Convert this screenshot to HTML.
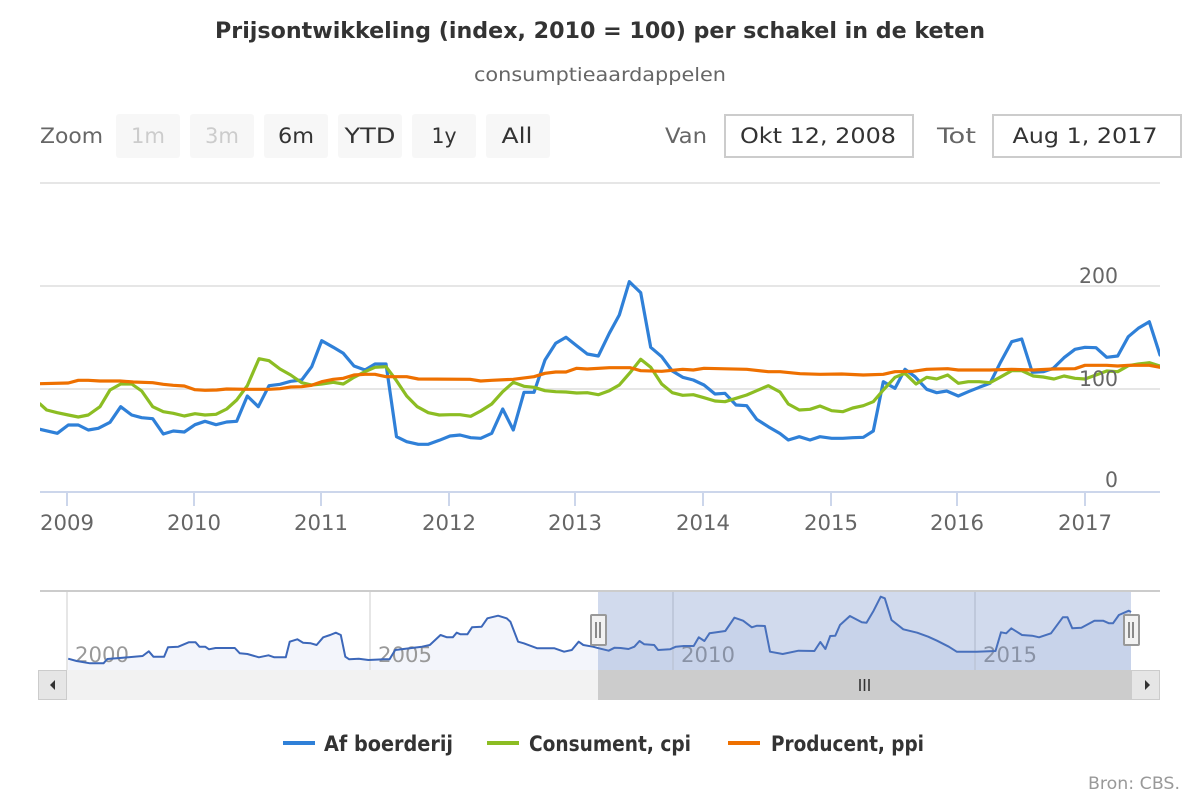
<!DOCTYPE html>
<html>
<head>
<meta charset="utf-8">
<style>
html,body{margin:0;padding:0;background:#fff;}
svg{display:block;}
text{font-family:"DejaVu Sans Condensed","DejaVu Sans","Liberation Sans",sans-serif;}
</style>
</head>
<body>
<svg width="1200" height="800" viewBox="0 0 1200 800" xmlns="http://www.w3.org/2000/svg">
<rect x="0" y="0" width="1200" height="800" fill="#fff"/>

<!-- Title -->
<text x="600" y="38" text-anchor="middle" font-size="22" font-weight="bold" fill="#333" textLength="770" lengthAdjust="spacingAndGlyphs">Prijsontwikkeling (index, 2010 = 100) per schakel in de keten</text>
<text x="600" y="81" text-anchor="middle" font-size="19" fill="#666" textLength="252" lengthAdjust="spacingAndGlyphs">consumptieaardappelen</text>

<!-- Range selector -->
<text x="40" y="143" font-size="21" fill="#666" textLength="63" lengthAdjust="spacingAndGlyphs">Zoom</text>
<rect x="116" y="114" width="64" height="44" rx="3" fill="#f7f7f7"/>
<rect x="190" y="114" width="64" height="44" rx="3" fill="#f7f7f7"/>
<rect x="264" y="114" width="64" height="44" rx="3" fill="#f7f7f7"/>
<rect x="338" y="114" width="64" height="44" rx="3" fill="#f7f7f7"/>
<rect x="412" y="114" width="64" height="44" rx="3" fill="#f7f7f7"/>
<rect x="486" y="114" width="64" height="44" rx="3" fill="#f7f7f7"/>
<text x="148" y="143" text-anchor="middle" font-size="21" fill="#ccc" textLength="34" lengthAdjust="spacingAndGlyphs">1m</text>
<text x="222" y="143" text-anchor="middle" font-size="21" fill="#ccc" textLength="34" lengthAdjust="spacingAndGlyphs">3m</text>
<text x="296" y="143" text-anchor="middle" font-size="21" fill="#333" textLength="36" lengthAdjust="spacingAndGlyphs">6m</text>
<text x="370" y="143" text-anchor="middle" font-size="21" fill="#333" textLength="51" lengthAdjust="spacingAndGlyphs">YTD</text>
<text x="444" y="143" text-anchor="middle" font-size="21" fill="#333" textLength="25" lengthAdjust="spacingAndGlyphs">1y</text>
<text x="517" y="143" text-anchor="middle" font-size="21" fill="#333" textLength="31" lengthAdjust="spacingAndGlyphs">All</text>

<text x="665" y="143" font-size="21" fill="#666" textLength="42" lengthAdjust="spacingAndGlyphs">Van</text>
<rect x="725" y="115" width="188" height="42" fill="#fff" stroke="#ccc" stroke-width="2"/>
<text x="818" y="143" text-anchor="middle" font-size="21" fill="#333" textLength="156" lengthAdjust="spacingAndGlyphs">Okt 12, 2008</text>
<text x="937" y="143" font-size="21" fill="#666" textLength="39" lengthAdjust="spacingAndGlyphs">Tot</text>
<rect x="993" y="115" width="188" height="42" fill="#fff" stroke="#ccc" stroke-width="2"/>
<text x="1085" y="143" text-anchor="middle" font-size="21" fill="#333" textLength="145" lengthAdjust="spacingAndGlyphs">Aug 1, 2017</text>

<!-- Main grid -->
<g stroke="#e6e6e6" stroke-width="2">
<line x1="40" y1="183" x2="1160" y2="183"/>
<line x1="40" y1="286" x2="1160" y2="286"/>
<line x1="40" y1="389" x2="1160" y2="389"/>
</g>
<line x1="40" y1="492" x2="1160" y2="492" stroke="#ccd6eb" stroke-width="2"/>
<g stroke="#ccd6eb" stroke-width="2">
<line x1="67" y1="492" x2="67" y2="506"/>
<line x1="194" y1="492" x2="194" y2="506"/>
<line x1="321" y1="492" x2="321" y2="506"/>
<line x1="449" y1="492" x2="449" y2="506"/>
<line x1="575" y1="492" x2="575" y2="506"/>
<line x1="703" y1="492" x2="703" y2="506"/>
<line x1="831" y1="492" x2="831" y2="506"/>
<line x1="957" y1="492" x2="957" y2="506"/>
<line x1="1085" y1="492" x2="1085" y2="506"/>
</g>
<g font-size="21" fill="#666" text-anchor="middle">
<text x="67" y="530" textLength="54" lengthAdjust="spacingAndGlyphs">2009</text>
<text x="194" y="530" textLength="54" lengthAdjust="spacingAndGlyphs">2010</text>
<text x="321" y="530" textLength="54" lengthAdjust="spacingAndGlyphs">2011</text>
<text x="449" y="530" textLength="54" lengthAdjust="spacingAndGlyphs">2012</text>
<text x="575" y="530" textLength="54" lengthAdjust="spacingAndGlyphs">2013</text>
<text x="703" y="530" textLength="54" lengthAdjust="spacingAndGlyphs">2014</text>
<text x="831" y="530" textLength="54" lengthAdjust="spacingAndGlyphs">2015</text>
<text x="957" y="530" textLength="54" lengthAdjust="spacingAndGlyphs">2016</text>
<text x="1085" y="530" textLength="54" lengthAdjust="spacingAndGlyphs">2017</text>
</g>

<!-- Series -->
<defs><clipPath id="pc"><rect x="40" y="170" width="1120" height="322"/></clipPath></defs>
<g clip-path="url(#pc)" fill="none" stroke-width="3.2" stroke-linejoin="round" stroke-linecap="round">
<polyline stroke="#2f80d8" points="40,429.3 57.3,433.3 68.3,425 78.3,425 88.3,430 98.3,428.3 110,422.3 120.7,406.7 131.7,415 141.7,417.7 152.7,418.7 163.3,434 173.3,431 184.3,432 195,424.7 205,421.3 216,424.7 226.7,422 236.7,421.3 247.3,396 258.3,406.7 269,385.7 280,384.3 290.7,381.3 301.7,380 311.7,366.7 321.7,340.7 333.3,347.3 343.3,353.3 354,366 365,370 375,364 386,364 396.5,436.7 406.7,441.7 418.3,444.3 428.3,444.3 439.3,440.3 450,436 460,435 470.7,437.7 480.7,438.3 491.7,433.3 502.7,409 513.3,430 524,392.3 534,392.3 545,360 555.7,343.3 566,337.3 576.7,345.7 587.3,354 598.3,356 609.3,333.3 619.3,315 629.3,281.7 640.7,292.7 650.7,347.3 661.7,356.7 672.3,371 682.7,377.3 693.3,380 704,385 715,394 725,393.3 736,405 746.7,405.7 756.7,419.3 768.3,426.7 780,433.5 788.3,440 799.3,436.7 810,440 820,436.7 831.7,438.3 842.7,438.3 852.7,437.7 863.3,437.3 873.3,431 883.3,381.7 895,388.3 905,369.3 915,376.7 926.7,389.3 936.7,392.7 946.7,391 958.3,396 968.3,391.7 979.3,387.3 990,383.3 1000,363.3 1011.7,341.7 1021.7,339 1032.3,372.3 1043.3,371.7 1053.3,368.3 1064,357.7 1075,349.3 1085,347.3 1096,347.7 1106.7,357.3 1117.7,356 1128.3,336.7 1138.3,328.3 1149.3,321.7 1160,355"/>
<polyline stroke="#8cbd23" points="40,404 46.7,410 57.3,412.7 68.3,415 78.3,417 88.3,415 100,406.7 110,390 120.7,384 131.7,384 141.7,391 152.7,406.7 163.3,411.7 173.3,413.3 184.3,416 195,413.7 205,415 216,414.3 226.7,409 236.7,400 247.3,385.7 259,358.7 269,360.7 280,369 290.7,375 301.7,382.7 311.7,385 321.7,384 333.3,382.3 343.3,384 354,377.3 365,371.7 375,367.3 386,366.7 396,380 406.7,396 417.3,406.7 428.3,412.7 439.3,415 450,414.7 460,414.7 470.7,416.3 480.7,411 491.7,404 502.7,391.7 513.3,382.3 524,386.3 534,387.3 545,390.7 555.7,391.7 566,392 576.7,393 587.3,392.7 598.3,394.7 609.3,390.7 619.3,385 630,372.7 640.7,359.3 650.7,367.3 661.7,384 672.3,392.7 682.7,395.3 693.3,394.7 704,397.7 715,401 725,401.7 736,398.3 746.7,395 756.7,390.7 768.3,385.7 780,392 788.3,404 799.3,410 810,409.3 820,406 831.7,410.7 842.7,411.7 852.7,408 863.3,405.7 873.3,401.7 883.3,390 895,377.3 905,373.3 916,384 926.7,377.3 936.7,379 947.7,375 958.3,383.3 968.3,381.7 979.3,381.7 990,382.7 1000,377.3 1011.7,370.7 1021.7,370.7 1033.3,376 1043.3,377 1054,379 1064,376 1075,378.3 1085,379 1096,375 1106.7,371 1117.7,371.7 1128.3,365.7 1138.3,364 1149.3,362.7 1160,366"/>
<polyline stroke="#ee7000" points="40,383.7 68.3,383 78.3,380.3 88.3,380.3 100,381 120,381 133.3,382 152.7,382.7 163.3,384.3 173.3,385.3 184.3,386 195,389.7 205,390.3 216.7,390 226.7,389 246.7,389.3 269,389.3 280,388.7 290.7,387 301.7,386.7 311.7,385.3 321.7,381.7 333.3,379.3 343.3,378.3 354,375 365,374.3 375,374.3 386,376.7 406.7,376.7 418.3,379 470,379.3 480.7,381 491.7,380.3 513.3,379.3 534,376.7 545,373.3 555.7,372 566,372 576.7,368.3 587.3,369 609.3,367.7 630,367.7 640.7,370.7 661.7,371.3 682.7,369.3 693.3,370 704,368.3 746.7,369.3 768.3,371.7 780,371.7 800,373.7 820,374.3 841.7,374 863.3,375 883.3,374.3 895,371.7 913.3,371.3 926.7,369.3 947.7,368.7 958.3,370 990,370 1011.7,369.3 1033.3,370 1053.3,369 1075,368.7 1085,365.3 1106.7,365.3 1117.7,366 1128.3,365.3 1149.3,365.3 1160,367.3"/>
</g>

<!-- Y labels -->
<g font-size="21" fill="#666" text-anchor="end">
<text x="1118" y="283" textLength="39" lengthAdjust="spacingAndGlyphs">200</text>
<text x="1118" y="386" textLength="39" lengthAdjust="spacingAndGlyphs">100</text>
<text x="1118" y="487" textLength="13" lengthAdjust="spacingAndGlyphs">0</text>
</g>

<!-- Navigator -->
<polygon fill="#f3f5fb" points="68.2,670 68.2,658.7 76.6,661 90,663.3 103.5,663.3 107.3,659 122.7,657.7 142.6,656 148.8,651.3 153.4,656.7 164.1,656.7 168,647.3 178.3,646.7 188.7,642.3 195.6,642.3 199.4,646.7 205.2,646.7 209,649.3 215.6,648 234.8,648 239.8,653.3 247.4,654 258.9,657.3 268.5,655.3 274.3,657.3 285.8,657.3 289.7,641.7 297.3,639.3 303.1,642.7 310.8,643.3 316.6,645 323.2,637.3 330.1,635 335.8,632.7 340.8,635 345.3,656.7 349.2,659.3 358.8,658.7 368.4,660 383.7,659.3 389.5,659.3 395.2,650 422.1,646.7 429.8,645 440.5,635 447,637.3 452.8,637.3 456.7,632.7 460.5,634.3 467.4,634.3 472,627.3 481.6,626.7 487.4,618.3 498.1,615.7 506.6,618.3 510.4,621.7 518.1,641.7 523.8,643.3 537.3,648.3 554.5,648.3 564.1,651.7 571.8,650 578.7,641.7 583.3,645 592.9,646.7 599,648.3 608.7,650.7 614.6,647.7 620.6,648 628.5,649 634.4,646.7 639.5,641 644.3,644.3 654.2,645 658.1,650 670,649.3 675.9,646.7 683.8,646 693.7,646 698.8,637.3 704.4,641 709.5,633.3 725.3,631 734.4,617.7 743.1,620.7 751.8,627.3 757,625.7 764.9,626 770,651.7 782.7,654 798.5,650.7 814.4,651 820.3,642 825.4,649 830.2,636 835.3,635.7 840,625 849.9,616 861.8,622.3 866.5,622.7 873.6,610.7 880.7,596.7 884.8,598.3 891.5,620 903.3,629.3 917.2,632.7 928.2,636.7 937,640.7 948.8,646.7 956.7,651.7 976.5,651.7 995.5,651 1001,632.3 1006.2,633.3 1011.3,628.3 1022,635 1032,635.7 1039.1,637.3 1051,633.3 1062.8,617.3 1067.5,617.3 1072.3,628.3 1081.4,627.7 1094.4,620.7 1103.1,620.7 1109,623.3 1113,623.3 1118.9,615 1128.8,610.7 1131,612 1131,670"/>
<g stroke="#e6e6e6" stroke-width="2">
<line x1="67" y1="591" x2="67" y2="670"/>
<line x1="370" y1="591" x2="370" y2="670"/>
<line x1="673" y1="591" x2="673" y2="670"/>
<line x1="975" y1="591" x2="975" y2="670"/>
</g>
<g font-size="21" fill="#999">
<text x="75" y="662" textLength="54" lengthAdjust="spacingAndGlyphs">2000</text>
<text x="378" y="662" textLength="54" lengthAdjust="spacingAndGlyphs">2005</text>
<text x="681" y="662" textLength="54" lengthAdjust="spacingAndGlyphs">2010</text>
<text x="983" y="662" textLength="54" lengthAdjust="spacingAndGlyphs">2015</text>
</g>
<polyline fill="none" stroke="#3c67b9" stroke-width="2" stroke-linejoin="round" points="68.2,658.7 76.6,661 90,663.3 103.5,663.3 107.3,659 122.7,657.7 142.6,656 148.8,651.3 153.4,656.7 164.1,656.7 168,647.3 178.3,646.7 188.7,642.3 195.6,642.3 199.4,646.7 205.2,646.7 209,649.3 215.6,648 234.8,648 239.8,653.3 247.4,654 258.9,657.3 268.5,655.3 274.3,657.3 285.8,657.3 289.7,641.7 297.3,639.3 303.1,642.7 310.8,643.3 316.6,645 323.2,637.3 330.1,635 335.8,632.7 340.8,635 345.3,656.7 349.2,659.3 358.8,658.7 368.4,660 383.7,659.3 389.5,659.3 395.2,650 422.1,646.7 429.8,645 440.5,635 447,637.3 452.8,637.3 456.7,632.7 460.5,634.3 467.4,634.3 472,627.3 481.6,626.7 487.4,618.3 498.1,615.7 506.6,618.3 510.4,621.7 518.1,641.7 523.8,643.3 537.3,648.3 554.5,648.3 564.1,651.7 571.8,650 578.7,641.7 583.3,645 592.9,646.7 599,648.3 608.7,650.7 614.6,647.7 620.6,648 628.5,649 634.4,646.7 639.5,641 644.3,644.3 654.2,645 658.1,650 670,649.3 675.9,646.7 683.8,646 693.7,646 698.8,637.3 704.4,641 709.5,633.3 725.3,631 734.4,617.7 743.1,620.7 751.8,627.3 757,625.7 764.9,626 770,651.7 782.7,654 798.5,650.7 814.4,651 820.3,642 825.4,649 830.2,636 835.3,635.7 840,625 849.9,616 861.8,622.3 866.5,622.7 873.6,610.7 880.7,596.7 884.8,598.3 891.5,620 903.3,629.3 917.2,632.7 928.2,636.7 937,640.7 948.8,646.7 956.7,651.7 976.5,651.7 995.5,651 1001,632.3 1006.2,633.3 1011.3,628.3 1022,635 1032,635.7 1039.1,637.3 1051,633.3 1062.8,617.3 1067.5,617.3 1072.3,628.3 1081.4,627.7 1094.4,620.7 1103.1,620.7 1109,623.3 1113,623.3 1118.9,615 1128.8,610.7 1131,612"/>
<rect x="598" y="591" width="533" height="79" fill="rgb(102,133,194)" fill-opacity="0.3"/>
<line x1="40" y1="591" x2="1160" y2="591" stroke="#ccc" stroke-width="2"/>

<!-- Handles -->
<rect x="591" y="615" width="15" height="30" rx="1" fill="#f2f2f2" stroke="#999" stroke-width="2"/>
<line x1="596" y1="622" x2="596" y2="638" stroke="#666" stroke-width="1.5"/>
<line x1="600" y1="622" x2="600" y2="638" stroke="#666" stroke-width="1.5"/>
<rect x="1124" y="615" width="15" height="30" rx="1" fill="#f2f2f2" stroke="#999" stroke-width="2"/>
<line x1="1129" y1="622" x2="1129" y2="638" stroke="#666" stroke-width="1.5"/>
<line x1="1133" y1="622" x2="1133" y2="638" stroke="#666" stroke-width="1.5"/>

<!-- Scrollbar -->
<rect x="38" y="670" width="1122" height="30" fill="#f2f2f2"/>
<rect x="598" y="670" width="533" height="30" fill="#ccc"/>
<rect x="38.5" y="670.5" width="28" height="29" fill="#e6e6e6" stroke="#ccc" stroke-width="1"/>
<polygon points="50,685 55,680 55,690" fill="#333"/>
<rect x="1131.5" y="670.5" width="28" height="29" fill="#e6e6e6" stroke="#ccc" stroke-width="1"/>
<polygon points="1150,685 1145,680 1145,690" fill="#333"/>
<g stroke="#333" stroke-width="1.6">
<line x1="860" y1="679" x2="860" y2="691"/>
<line x1="864.5" y1="679" x2="864.5" y2="691"/>
<line x1="869" y1="679" x2="869" y2="691"/>
</g>

<!-- Legend -->
<line x1="283" y1="743" x2="315" y2="743" stroke="#2f80d8" stroke-width="4"/>
<text x="324" y="751" font-size="21" font-weight="bold" fill="#333" textLength="129" lengthAdjust="spacingAndGlyphs">Af boerderij</text>
<line x1="487" y1="743" x2="519" y2="743" stroke="#8cbd23" stroke-width="4"/>
<text x="529" y="751" font-size="21" font-weight="bold" fill="#333" textLength="162" lengthAdjust="spacingAndGlyphs">Consument, cpi</text>
<line x1="728" y1="743" x2="760" y2="743" stroke="#ee7000" stroke-width="4"/>
<text x="771" y="751" font-size="21" font-weight="bold" fill="#333" textLength="153" lengthAdjust="spacingAndGlyphs">Producent, ppi</text>

<!-- Credits -->
<text x="1180" y="789" text-anchor="end" font-size="17" fill="#999" textLength="92" lengthAdjust="spacingAndGlyphs">Bron: CBS.</text>
</svg>
</body>
</html>
